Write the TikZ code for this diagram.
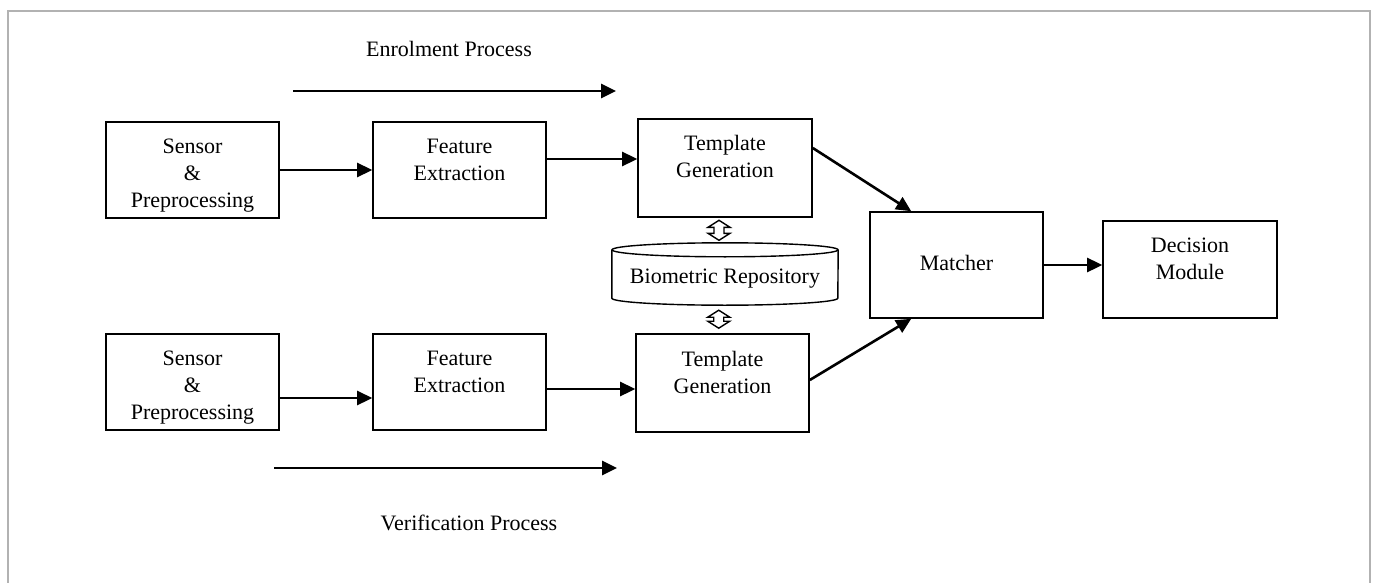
\documentclass[tikz,border=0pt]{standalone}
\usepackage{fontspec}
\setmainfont{Liberation Serif}
\usetikzlibrary{arrows.meta,calc}
\begin{document}
\begin{tikzpicture}[x=1pt,y=-1pt,
  box/.style={draw,line width=1.6pt,minimum width=173pt,minimum height=96pt,inner sep=0pt},
  lbl/.style={font=\fontsize{22}{27}\selectfont,align=center,inner sep=0pt},
  arr/.style={line width=2.6pt,-{Triangle[length=15pt,width=14pt]}},
  hollow/.style={draw,line width=1.4pt,fill=white,line join=miter},
  cylline/.style={line width=1.4pt},
  frame/.style={draw=gray!60,line width=1.3pt}]
\useasboundingbox (0,0) rectangle (1375,583);
% outer frame (open at the bottom)
\draw[frame] (8,583) -- (8,11) -- (1370,11) -- (1370,583);

% enrolment row
\node[box] (s1) at (192.5,170) {};
\node[box] (f1) at (459.5,170) {};
\node[box,minimum width=174pt,minimum height=98pt] (t1) at (725,168) {};
% verification row
\node[box] (s2) at (192.5,382) {};
\node[box] (f2) at (459.5,382) {};
\node[box,minimum height=98pt] (t2) at (722.5,383) {};
% matching and decision
\node[box,minimum height=106pt] (m) at (956.5,265) {};
\node[box,minimum width=174pt,minimum height=97pt] (d) at (1190,269.5) {};
% repository
\node[minimum width=226pt,minimum height=62pt,inner sep=0pt] (cyl) at (725,274) {};
\draw[cylline] ([yshift=-7pt]cyl.north) ellipse [x radius=113pt, y radius=7pt];
\draw[cylline] ([yshift=-7pt]cyl.north west) -- ([yshift=7pt]cyl.south west)
  arc [start angle=180, end angle=360, x radius=113pt, y radius=7pt]
  -- ([yshift=-7pt]cyl.north east);

% labels
\node[lbl] (s1t) at (192.5,176) {Sensor\\\&\\Preprocessing};
\node[lbl] (f1t) at (459.5,160) {Feature\\Extraction};
\node[lbl] (t1t) at (725,156) {Template\\Generation};
\node[lbl] (s2t) at (192.5,388) {Sensor\\\&\\Preprocessing};
\node[lbl] (f2t) at (459.5,372) {Feature\\Extraction};
\node[lbl] (t2t) at (722.5,372) {Template\\Generation};
\node[lbl,anchor=base] (mt) at (956.5,270.5) {Matcher};
\node[lbl] (dt) at (1190,259) {Decision\\Module};
\node[lbl,anchor=base] (cylt) at (725,283.5) {Biometric Repository};
\node[lbl,anchor=base] (et) at (449,57) {Enrolment Process};
\node[lbl,anchor=base] (vt) at (469,530) {Verification Process};

% process direction arrows
\coordinate (e0) at (293,91);
\coordinate (e1) at (616,91);
\draw[arr] (e0) -- (e1);
\coordinate (v0) at (274,468);
\coordinate (v1) at (617,468);
\draw[arr] (v0) -- (v1);

% data flow
\draw[arr] (s1.east) -- (f1.west);
\draw[arr] ([yshift=11pt]f1.east) coordinate (a1) -- (a1 -| t1.west);
\draw[arr] ([yshift=-16pt]s2.east) coordinate (a2) -- (a2 -| f2.west);
\draw[arr] ([yshift=-7pt]f2.east) coordinate (a3) -- (a3 -| t2.west);
\draw[arr] ([yshift=20pt]t1.east) -- ([xshift=42pt]m.north west);
\draw[arr] ([yshift=3pt]t2.east) -- ([xshift=42pt]m.south west);
\draw[arr] (m.east) coordinate (a4) -- (a4 -| d.west);

% hollow two-way arrows to and from the repository
\draw[hollow] ($(t1.south)!0.5!(cyl.north)+(-6,0)$) ++(0,-10) -- ++(11,7) -- ++(-6,0)
  -- ++(0,6) -- ++(6,0) -- ++(-11,7) -- ++(-11,-7) -- ++(6,0) -- ++(0,-6) -- ++(-6,0) -- cycle;
\draw[hollow] ($(cyl.south)!0.5!(t2.north)+(-5,0)$) ++(0,-9) -- ++(11,7) -- ++(-6,0)
  -- ++(0,4) -- ++(6,0) -- ++(-11,7) -- ++(-11,-7) -- ++(6,0) -- ++(0,-4) -- ++(-6,0) -- cycle;
\end{tikzpicture}
\end{document}
